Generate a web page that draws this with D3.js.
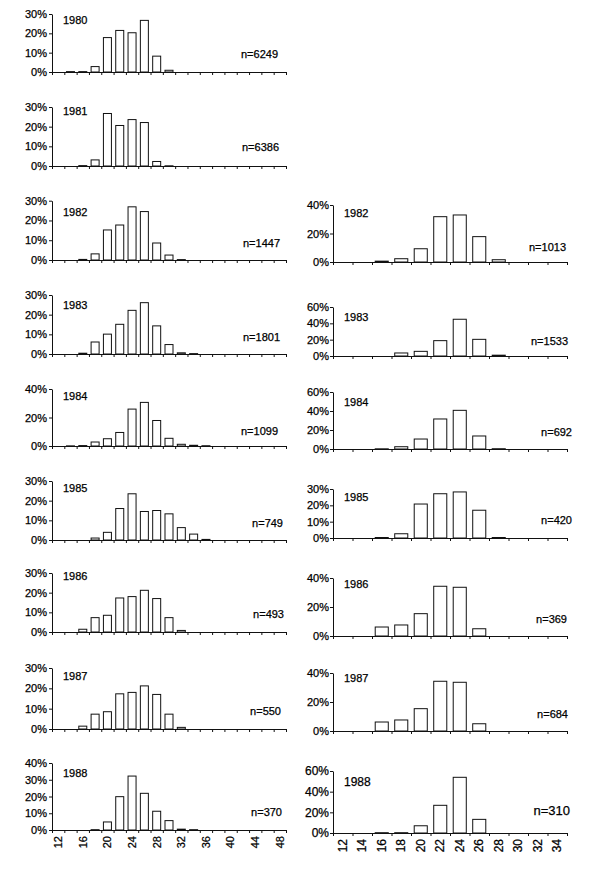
<!DOCTYPE html>
<html>
<head>
<meta charset="utf-8">
<script src="https://cdn.jsdelivr.net/npm/d3@7"></script>
<style>
  html, body { margin: 0; padding: 0; background: #fff; }
  svg { display: block; }
  text { font-family: "Liberation Sans", Arial, sans-serif; fill: #000; stroke: #000; stroke-width: 0.25px; }
</style>
</head>
<body>
<svg id="chart" width="600" height="871"></svg>
<script>
// ---------- DATA ----------
const leftCats  = [12,14,16,18,20,22,24,26,28,30,32,34,36,38,40,42,44,46,48];
const rightCats = [12,14,16,18,20,22,24,26,28,30,32,34];
const leftTickLabels  = [12,16,20,24,28,32,36,40,44,48];
const rightTickLabels = [12,14,16,18,20,22,24,26,28,30,32,34];

const leftYears = [1980,1981,1982,1983,1984,1985,1986,1987,1988];
const leftN     = [6249,6386,1447,1801,1099,749,493,550,370];
const rightYears = [1982,1983,1984,1985,1986,1987,1988];
const rightN     = [1013,1533,692,420,369,684,310];

// percentages per size class (left: 12..48, right: 12..34)
const left1980 = [0,0.2,0.2,2.8,17.8,21.5,20.3,26.7,8.2,0.9,0,0,0,0,0,0,0,0,0];
const left1981 = [0,0,0.2,3.1,26.7,20.6,23.6,22.1,2.3,0.1,0,0,0,0,0,0,0,0,0];
const left1982 = [0,0,0.3,3.1,15.2,17.7,26.9,24.5,8.6,2.5,0.2,0,0,0,0,0,0,0,0];
const left1983 = [0,0,0.4,6.1,10.1,15.1,22.2,26.1,14.3,4.8,0.6,0.2,0,0,0,0,0,0,0];
const left1984 = [0,0.1,0.3,2.8,5.1,9.5,25.9,30.6,17.9,5.4,1.2,0.5,0.2,0,0,0,0,0,0];
const left1985 = [0,0,0,1.0,3.9,16.0,23.5,14.5,15.0,13.3,6.3,3.0,0.3,0,0,0,0,0,0];
const left1986 = [0,0,1.4,7.3,8.5,17.3,18.0,21.2,17.0,7.3,0.8,0,0,0,0,0,0,0,0];
const left1987 = [0,0,1.4,7.3,8.5,17.3,18.0,21.2,17.0,7.3,0.8,0,0,0,0,0,0,0,0];
const left1988 = [0,0,0,0.2,4.8,19.9,32.2,21.9,11.2,5.6,0.5,0.2,0,0,0,0,0,0,0];

const right1982 = [0,0,0.6,2.3,9.3,31.8,33.0,17.8,1.6,0,0,0];
const right1983 = [0,0,0,3.7,5.7,18.8,45.0,20.4,1.0,0,0,0];
const right1984 = [0,0,0.2,2.4,10.5,31.6,40.7,13.7,0.3,0,0,0];
const right1985 = [0,0,0.3,2.6,20.8,27.1,28.2,17.0,0.3,0,0,0];
const right1986 = [0,0,6.2,7.6,15.4,34.3,33.6,5.0,0,0,0,0];
const right1987 = [0,0,6.2,7.6,15.4,34.3,33.6,5.0,0,0,0,0];
const right1988 = [0,0,0.3,0.3,7.0,26.8,53.9,13.2,0,0,0,0];

const leftValues  = [left1980,left1981,left1982,left1983,left1984,left1985,left1986,left1987,left1988];
const rightValues = [right1982,right1983,right1984,right1985,right1986,right1987,right1988];

const leftMax  = [30,30,30,30,40,30,30,30,40];
const leftStep = [10,10,10,10,20,10,10,10,10];
const rightMax  = [40,60,60,30,40,40,60];
const rightStep = [20,20,20,10,20,20,20];

// ---------- LAYOUT ----------
const leftCol  = {x0: 52,  x1: 286, pad: 0.35, labelPad: 2};
const rightCol = {x0: 333, x1: 567, pad: 0.33, labelPad: 1};
const leftBase = [72,166,260,354,446,540,632,729,830];
const leftTop  = [14,107,200.7,295,389,481,573,668,763];
const leftYearDy = [6,4,11,10,7,7,3,8,10];
const leftNDy    = [18,19,17,17,15,17,18,18,18];
const leftNRight = [278,279,280,280,278,283,284,281,282];
const rightBase = [262,356,449,538,636,731,833];
const rightTop  = [205,307,392,489,578,673,771];
const rightYearDy = [8,10,10,8,6,5,11];
const rightNDy    = [15,15,17,18,17,17,23];
const rightNRight = [566,568,572,572,567,568,570];

const svg = d3.select("#chart");
svg.append("rect").attr("width",600).attr("height",871).attr("fill","#fff");

function panel(col, cats, values, base, top, max, step, year, n, yearDy, nDy, nRight, tickLabels, fs, nfs) {
  const g = svg.append("g");
  const x = d3.scaleBand().domain(cats).range([col.x0, col.x1])
    .paddingInner(col.pad).paddingOuter(col.pad/2);
  const y = d3.scaleLinear().domain([0, max]).range([base, top]);

  // bars
  g.selectAll("rect.bar").data(cats.map((c,i)=>({c, v: values[i]})).filter(d=>d.v>0))
    .join("rect").attr("class","bar")
    .attr("x", d=>x(d.c)).attr("width", x.bandwidth())
    .attr("y", d=>y(d.v)).attr("height", d=>base - y(d.v))
    .attr("fill","#fff").attr("stroke","#111").attr("stroke-width",1);

  // y axis
  const ya = g.append("g").attr("transform",`translate(${col.x0},0)`)
    .call(d3.axisLeft(y).tickValues(d3.range(0, max+0.001, step))
      .tickFormat(d=>d+"%").tickSize(3).tickSizeOuter(0).tickPadding(col.labelPad));
  ya.selectAll("path,line").attr("stroke","#111");
  ya.selectAll("text").style("font-size", fs+"px").attr("fill","#000");

  // x axis: ticks at band boundaries
  const bnd = d3.scaleLinear().domain([0, cats.length]).range([col.x0, col.x1]);
  const xa = g.append("g").attr("transform",`translate(0,${base})`)
    .call(d3.axisBottom(bnd).tickValues(d3.range(0, cats.length+1))
      .tickFormat("").tickSize(3).tickSizeOuter(0));
  xa.selectAll("path,line").attr("stroke","#111");

  if (tickLabels) {
    const xl = g.append("g").attr("transform",`translate(0,${base})`)
      .call(d3.axisBottom(x).tickValues(tickLabels).tickSize(0));
    xl.select(".domain").remove();
    xl.selectAll("text")
      .style("font-size", fs+"px").attr("fill","#000")
      .attr("transform","rotate(-90)")
      .attr("text-anchor","end")
      .attr("x", -6).attr("y", 0).attr("dy","0.35em");
  }

  g.append("text").attr("x", col.x0 + 11).attr("y", top + yearDy)
    .attr("dy","0.35em").style("font-size", fs+"px").text(year);
  g.append("text").attr("x", nRight).attr("y", base - nDy)
    .attr("dy","0.35em").attr("text-anchor","end").style("font-size", nfs+"px").text("n=" + n);
}

leftYears.forEach((yr,i) => {
  panel(leftCol, leftCats, leftValues[i], leftBase[i], leftTop[i], leftMax[i], leftStep[i],
    yr, leftN[i], leftYearDy[i], leftNDy[i], leftNRight[i],
    i === leftYears.length-1 ? leftTickLabels : null, 11, 11);
});
rightYears.forEach((yr,i) => {
  const last = i === rightYears.length-1;
  panel(rightCol, rightCats, rightValues[i], rightBase[i], rightTop[i], rightMax[i], rightStep[i],
    yr, rightN[i], rightYearDy[i], rightNDy[i], rightNRight[i],
    last ? rightTickLabels : null, last ? 12 : 11, last ? 13 : 11);
});
</script>
</body>
</html>
